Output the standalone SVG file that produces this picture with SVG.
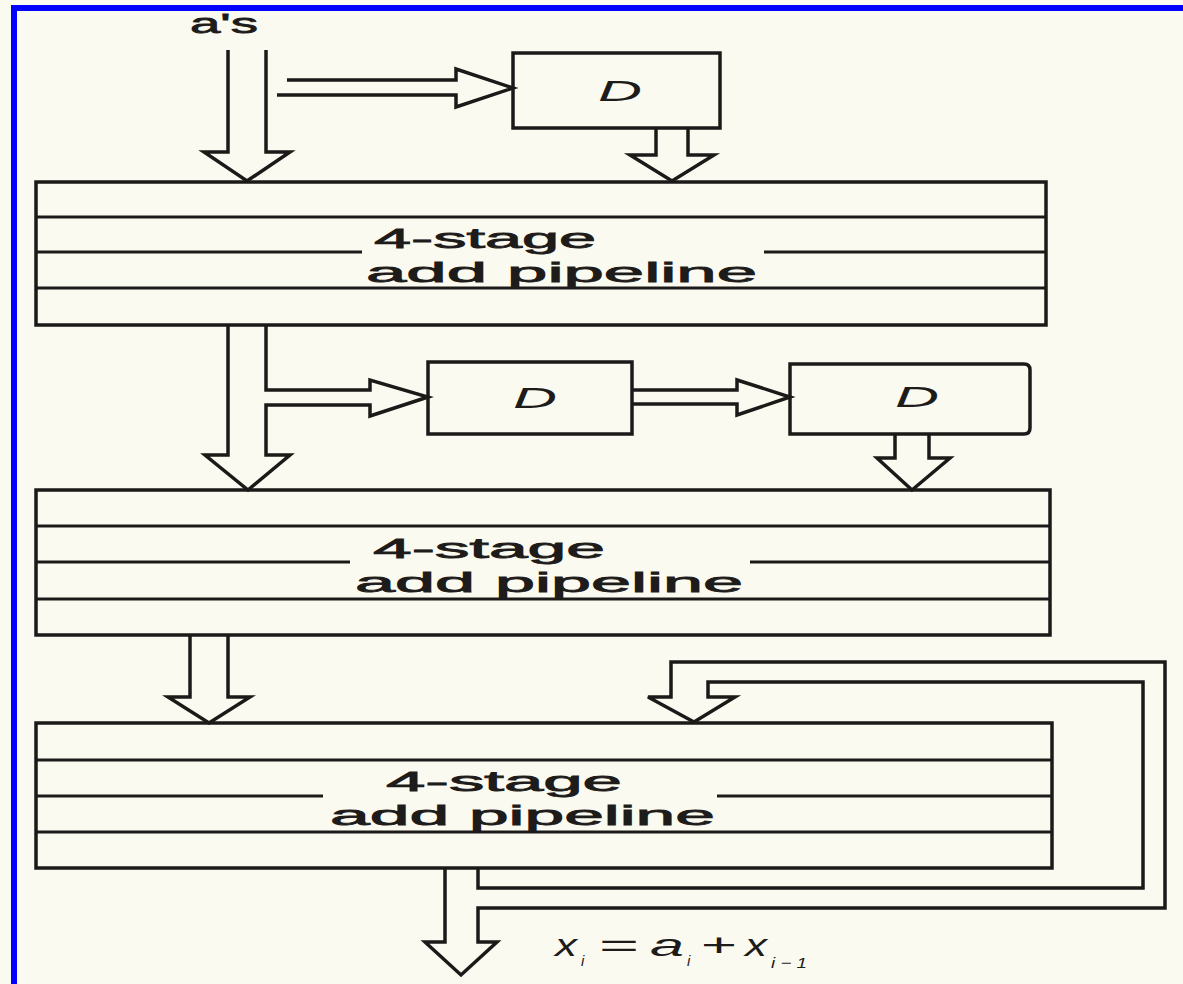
<svg xmlns="http://www.w3.org/2000/svg" width="1183" height="984" viewBox="0 0 1183 984">
  <defs>
    <style>
      .bg { fill: #fbfaf0; }
      .frame { fill: none; stroke: #0000ff; stroke-width: 6; }
      .box { fill: none; stroke: #1c1a18; stroke-width: 3.5; stroke-linejoin: miter; }
      .rule { fill: none; stroke: #1c1a18; stroke-width: 3; }
      .pipe { fill: none; stroke: #1c1a18; stroke-width: 3.5; stroke-linejoin: miter; }
      .lbl { font-family: "Liberation Sans", Arial, sans-serif; font-size: 28px; fill: #1e1c1a; stroke: #1e1c1a; stroke-width: 0.8; }
      .reg { font-family: "Liberation Sans", Arial, sans-serif; font-size: 30px; font-style: italic; fill: #1e1c1a; }
      .eq { font-family: "Liberation Sans", Arial, sans-serif; font-size: 32px; font-style: italic; fill: #1e1c1a; }
      .sub { font-family: "Liberation Sans", Arial, sans-serif; font-size: 15px; font-style: italic; fill: #1e1c1a; }
      .op { font-family: "Liberation Sans", Arial, sans-serif; font-size: 32px; fill: #1e1c1a; }
    </style>
  </defs>

  <!-- page -->
  <rect class="bg" x="0" y="0" width="1183" height="984"/>
  <path class="frame" d="M14,984 V8 H1183"/>

  <!-- input label -->
  <text class="lbl" x="190" y="33" font-size="30" textLength="68" lengthAdjust="spacingAndGlyphs">a's</text>

  <!-- connectors: hollow double-line arrows -->
  <g id="connectors">
    <!-- a's into first pipeline -->
    <path class="pipe" d="M228,50 V152 H204 L247,181 L290,152 H266 V50"/>
    <!-- a's into first delay -->
    <path class="pipe" d="M287,80 H456 V69 L513,88 L456,107 V95 H277"/>
    <!-- first delay into first pipeline -->
    <path class="pipe" d="M656,128 V155 H630 L672,181 L714,155 H688 V128"/>
    <!-- first pipeline into second pipeline, with branch to delay -->
    <path class="pipe" d="M228,325 V455 H205 L248,490 L290,455 H266 V405 H370 V416 L428,397 L370,380 V390 H266 V325"/>
    <!-- delay to delay -->
    <path class="pipe" d="M632,390 H737 V380 L790,397 L737,415 V404 H632"/>
    <!-- second delay into second pipeline -->
    <path class="pipe" d="M895,434 V458 H877 L912,490 L950,458 H929 V434"/>
    <!-- second pipeline into third pipeline -->
    <path class="pipe" d="M190,635 V697 H168 L209,723 L250,697 H228 V635"/>
    <!-- output with feedback loop -->
    <path class="pipe" d="M445,868 V942 H425 L461,975 L497,942 H478 V908 H1165 V662 H671 V697 H648 L694,722 L735,697 H708 V682 H1143 V888 H478 V868"/>
  </g>

  <!-- delay elements -->
  <g id="delay1">
    <rect class="box" x="513" y="53" width="207" height="75"/>
    <text class="reg" x="598" y="101" textLength="44" lengthAdjust="spacingAndGlyphs">D</text>
  </g>
  <g id="delay2">
    <rect class="box" x="428" y="362" width="204" height="72"/>
    <text class="reg" x="513" y="408" textLength="44" lengthAdjust="spacingAndGlyphs">D</text>
  </g>
  <g id="delay3">
    <path class="box" d="M790,364 H1024 Q1030,364 1030,370 V428 Q1030,434 1024,434 H790 Z"/>
    <text class="reg" x="895" y="407" textLength="44" lengthAdjust="spacingAndGlyphs">D</text>
  </g>

  <!-- adder pipelines -->
  <g id="pipeline1">
    <rect class="box" x="36" y="182" width="1010" height="143"/>
    <line class="rule" x1="36" y1="217" x2="1046" y2="217"/>
    <line class="rule" x1="36" y1="252" x2="362" y2="252"/>
    <line class="rule" x1="764" y1="252" x2="1046" y2="252"/>
    <line class="rule" x1="36" y1="288" x2="1046" y2="288"/>
    <text class="lbl" x="374" y="248" textLength="222" lengthAdjust="spacingAndGlyphs">4-stage</text>
    <text class="lbl" x="366" y="282" textLength="391" lengthAdjust="spacingAndGlyphs">add pipeline</text>
  </g>
  <g id="pipeline2">
    <rect class="box" x="36" y="490" width="1014" height="145"/>
    <line class="rule" x1="36" y1="526" x2="1050" y2="526"/>
    <line class="rule" x1="36" y1="562" x2="350" y2="562"/>
    <line class="rule" x1="750" y1="562" x2="1050" y2="562"/>
    <line class="rule" x1="36" y1="599" x2="1050" y2="599"/>
    <text class="lbl" x="373" y="558" textLength="232" lengthAdjust="spacingAndGlyphs">4-stage</text>
    <text class="lbl" x="355" y="592" textLength="388" lengthAdjust="spacingAndGlyphs">add pipeline</text>
  </g>
  <g id="pipeline3">
    <rect class="box" x="36" y="723" width="1016" height="145"/>
    <line class="rule" x1="36" y1="760" x2="1052" y2="760"/>
    <line class="rule" x1="36" y1="796" x2="323" y2="796"/>
    <line class="rule" x1="717" y1="796" x2="1052" y2="796"/>
    <line class="rule" x1="36" y1="832" x2="1052" y2="832"/>
    <text class="lbl" x="386" y="791" textLength="236" lengthAdjust="spacingAndGlyphs">4-stage</text>
    <text class="lbl" x="330" y="825" textLength="385" lengthAdjust="spacingAndGlyphs">add pipeline</text>
  </g>

  <!-- output recurrence -->
  <g id="output">
    <text class="eq" x="555" y="956" textLength="22" lengthAdjust="spacingAndGlyphs">x</text>
    <text class="sub" x="581" y="966">i</text>
    <text class="op" x="599" y="956" textLength="40" lengthAdjust="spacingAndGlyphs">=</text>
    <text class="eq" x="650" y="956" textLength="34" lengthAdjust="spacingAndGlyphs">a</text>
    <text class="sub" x="687" y="966">i</text>
    <text class="op" x="701" y="956" textLength="36" lengthAdjust="spacingAndGlyphs">+</text>
    <text class="eq" x="745" y="956" textLength="22" lengthAdjust="spacingAndGlyphs">x</text>
    <text class="sub" x="771" y="968" textLength="36" lengthAdjust="spacingAndGlyphs">i − 1</text>
  </g>
</svg>
